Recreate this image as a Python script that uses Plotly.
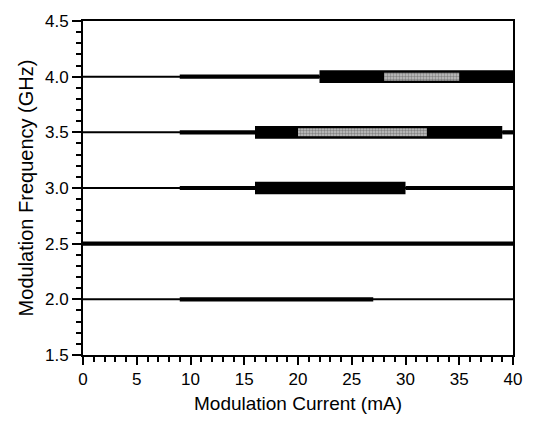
import plotly.graph_objects as go

# Modulation frequencies (GHz)
freqs = [2.0, 2.5, 3.0, 3.5, 4.0]

# Segment lists: (frequency, start mA, end mA)
thin_freq = [2.0, 2.5, 3.0, 3.5, 4.0]
thin_start = [0, 0, 0, 0, 0]
thin_end = [40, 40, 40, 40, 40]

medium_freq = [2.0, 2.5, 3.0, 3.0, 3.5, 3.5, 4.0]
medium_start = [9, 0, 9, 30, 9, 39, 9]
medium_end = [27, 40, 16, 40, 16, 40, 22]

thick_freq = [3.0, 3.5, 4.0]
thick_start = [16, 16, 22]
thick_end = [30, 39, 40]

gray_freq = [3.5, 4.0]
gray_start = [20, 28]
gray_end = [32, 35]


def lengths(s, e):
    return [b - a for a, b in zip(s, e)]


fig = go.Figure()
fig.add_trace(go.Bar(orientation="h", y=thin_freq, base=thin_start,
                     x=lengths(thin_start, thin_end), width=0.018,
                     marker=dict(color="black", line=dict(width=0)),
                     hoverinfo="skip", showlegend=False))
fig.add_trace(go.Bar(orientation="h", y=medium_freq, base=medium_start,
                     x=lengths(medium_start, medium_end), width=0.038,
                     marker=dict(color="black", line=dict(width=0)),
                     hoverinfo="skip", showlegend=False))
fig.add_trace(go.Bar(orientation="h", y=thick_freq, base=thick_start,
                     x=lengths(thick_start, thick_end), width=0.114,
                     marker=dict(color="black", line=dict(width=0)),
                     hoverinfo="skip", showlegend=False))
fig.add_trace(go.Bar(orientation="h", y=gray_freq, base=gray_start,
                     x=lengths(gray_start, gray_end), width=0.072,
                     marker=dict(color="#c4c4c4", line=dict(width=0),
                                 pattern=dict(shape=".", fgcolor="#444444",
                                              size=3, solidity=0.5)),
                     hoverinfo="skip", showlegend=False))

font_family = "Liberation Sans, Arial, sans-serif"
fig.update_layout(
    width=534, height=425,
    margin=dict(l=83, r=17, t=14, b=70),
    paper_bgcolor="white", plot_bgcolor="white",
    barmode="overlay",
    font=dict(family=font_family, color="black", size=17),
    xaxis=dict(range=[0, 40], dtick=5, tick0=0, showgrid=False, zeroline=False,
               showline=True, mirror=True, linecolor="black", linewidth=2,
               ticks="outside", ticklen=8, tickwidth=2, tickcolor="black",
               minor=dict(dtick=1, ticks="outside", ticklen=5, tickwidth=1.5,
                          tickcolor="black", showgrid=False),
               tickfont=dict(size=17),
               title=dict(text="Modulation Current (mA)", font=dict(size=19), standoff=8)),
    yaxis=dict(range=[1.5, 4.5], dtick=0.5, tick0=1.5, tickformat=".1f",
               showgrid=False, zeroline=False,
               showline=True, mirror=True, linecolor="black", linewidth=2,
               ticks="outside", ticklen=9, tickwidth=2, tickcolor="black",
               minor=dict(dtick=0.1, ticks="outside", ticklen=5, tickwidth=1.5,
                          tickcolor="black", showgrid=False),
               tickfont=dict(size=17),
               title=dict(text="Modulation Frequency (GHz)", font=dict(size=20), standoff=6)),
)

fig.write_html("out.html")
